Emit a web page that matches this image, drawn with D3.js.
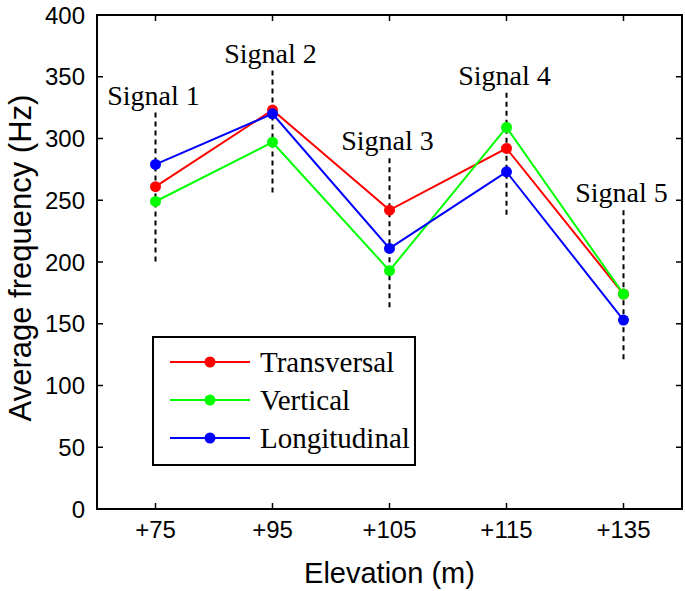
<!DOCTYPE html>
<html>
<head>
<meta charset="utf-8">
<script src="https://cdnjs.cloudflare.com/ajax/libs/d3/7.8.5/d3.min.js"></script>
<style>
  body { margin: 0; background: #fff; }
  svg { display: block; }
</style>
</head>
<body>
<div id="chart"></div>
<script>
// elevations on the x axis
var elevations = ["+75", "+95", "+105", "+115", "+135"];

// average frequency (Hz) per direction
var transversal  = [261, 323, 242, 292, 174];
var vertical     = [249, 297, 193, 309, 174];
var longitudinal = [279, 320, 211, 273, 153];

// signal annotations: dashed line extent in Hz
var signalLabels = ["Signal 1", "Signal 2", "Signal 3", "Signal 4", "Signal 5"];
var signalTop    = [321, 355, 284, 337, 242];
var signalBottom = [200, 256, 163, 235, 120];

var yTicks = [0, 50, 100, 150, 200, 250, 300, 350, 400];

var series = [
  {name: "Transversal",  color: "#ff0000", values: transversal},
  {name: "Vertical",     color: "#00ff00", values: vertical},
  {name: "Longitudinal", color: "#0000ff", values: longitudinal}
];

var W = 685, H = 591;
var margin = {top: 15, left: 97, right: 3, bottom: 82},
    width  = W - margin.left - margin.right,
    height = H - margin.top - margin.bottom;

var svg = d3.select("#chart").append("svg")
    .attr("width", W)
    .attr("height", H);

var g = svg.append("g").attr("transform", "translate(" + margin.left + "," + margin.top + ")");

var x = d3.scaleLinear().domain([-0.5, elevations.length - 0.5]).range([0, width]),
    y = d3.scaleLinear().domain([0, 400]).range([height, 0]);

var sans = "'Liberation Sans', Arial, Helvetica, sans-serif",
    serif = "'Liberation Serif', 'Times New Roman', serif";

// ticks (inside, on all four sides like matlab box)
var tickLen = 6;
var xt = elevations.map(function(d, i) { return i; });

g.selectAll(".xtick").data(xt).enter().append("line")
    .attr("x1", function(d) { return x(d); }).attr("x2", function(d) { return x(d); })
    .attr("y1", height).attr("y2", height - tickLen)
    .attr("stroke", "#000").attr("stroke-width", 1.5);
g.selectAll(".xtickTop").data(xt).enter().append("line")
    .attr("x1", function(d) { return x(d); }).attr("x2", function(d) { return x(d); })
    .attr("y1", 0).attr("y2", tickLen)
    .attr("stroke", "#000").attr("stroke-width", 1.5);
g.selectAll(".ytick").data(yTicks).enter().append("line")
    .attr("x1", 0).attr("x2", tickLen)
    .attr("y1", function(d) { return y(d); }).attr("y2", function(d) { return y(d); })
    .attr("stroke", "#000").attr("stroke-width", 1.5);
g.selectAll(".ytickRight").data(yTicks).enter().append("line")
    .attr("x1", width).attr("x2", width - tickLen)
    .attr("y1", function(d) { return y(d); }).attr("y2", function(d) { return y(d); })
    .attr("stroke", "#000").attr("stroke-width", 1.5);

// tick labels
g.selectAll(".xlabel").data(elevations).enter().append("text")
    .attr("x", function(d, i) { return x(i); })
    .attr("y", height + 29)
    .attr("text-anchor", "middle")
    .attr("font-family", sans).attr("font-size", 24)
    .text(function(d) { return d; });

g.selectAll(".ylabel").data(yTicks).enter().append("text")
    .attr("x", -12)
    .attr("y", function(d) { return y(d); })
    .attr("dy", "0.36em")
    .attr("text-anchor", "end")
    .attr("font-family", sans).attr("font-size", 24)
    .text(function(d) { return d; });

// axis titles
g.append("text")
    .attr("x", width / 2)
    .attr("y", height + 74)
    .attr("text-anchor", "middle")
    .attr("font-family", sans).attr("font-size", 29)
    .text("Elevation (m)");

g.append("text")
    .attr("transform", "translate(" + (-66) + "," + (height / 2 - 4) + ") rotate(-90)")
    .attr("text-anchor", "middle")
    .attr("font-family", sans).attr("font-size", 31)
    .text("Average frequency (Hz)");

// signal dashed markers + labels
g.selectAll(".sigline").data(signalLabels).enter().append("line")
    .attr("x1", function(d, i) { return x(i); }).attr("x2", function(d, i) { return x(i); })
    .attr("y1", function(d, i) { return y(signalTop[i]); })
    .attr("y2", function(d, i) { return y(signalBottom[i]); })
    .attr("stroke", "#000").attr("stroke-width", 2)
    .attr("stroke-dasharray", "5,4");

g.selectAll(".siglabel").data(signalLabels).enter().append("text")
    .attr("x", function(d, i) { return x(i) - 2; })
    .attr("y", function(d, i) { return y(signalTop[i]) - 8; })
    .attr("text-anchor", "middle")
    .attr("font-family", serif).attr("font-size", 28)
    .text(function(d) { return d; });

// lines
var line = d3.line()
    .x(function(d, i) { return x(i); })
    .y(function(d) { return y(d); });

series.forEach(function(s) {
  g.append("path")
    .datum(s.values)
    .attr("fill", "none")
    .attr("stroke", s.color)
    .attr("stroke-width", 2)
    .attr("d", line);
  g.selectAll(null).data(s.values).enter().append("circle")
    .attr("cx", function(d, i) { return x(i); })
    .attr("cy", function(d) { return y(d); })
    .attr("r", 5.5)
    .attr("fill", s.color);
});

// legend
var leg = g.append("g").attr("transform", "translate(" + (153 - margin.left) + "," + (337 - margin.top) + ")");
leg.append("rect")
    .attr("width", 262).attr("height", 128)
    .attr("fill", "#fff").attr("stroke", "#000").attr("stroke-width", 2);
series.forEach(function(s, i) {
  var ly = 25 + i * 38;
  leg.append("line")
    .attr("x1", 17).attr("x2", 97)
    .attr("y1", ly).attr("y2", ly)
    .attr("stroke", s.color).attr("stroke-width", 2);
  leg.append("circle")
    .attr("cx", 57).attr("cy", ly).attr("r", 5.5)
    .attr("fill", s.color);
  leg.append("text")
    .attr("x", 107).attr("y", ly + 10)
    .attr("font-family", serif).attr("font-size", 29)
    .text(s.name);
});

// axes box
g.append("rect")
    .attr("width", width).attr("height", height)
    .attr("fill", "none").attr("stroke", "#000").attr("stroke-width", 2);
</script>
</body>
</html>
